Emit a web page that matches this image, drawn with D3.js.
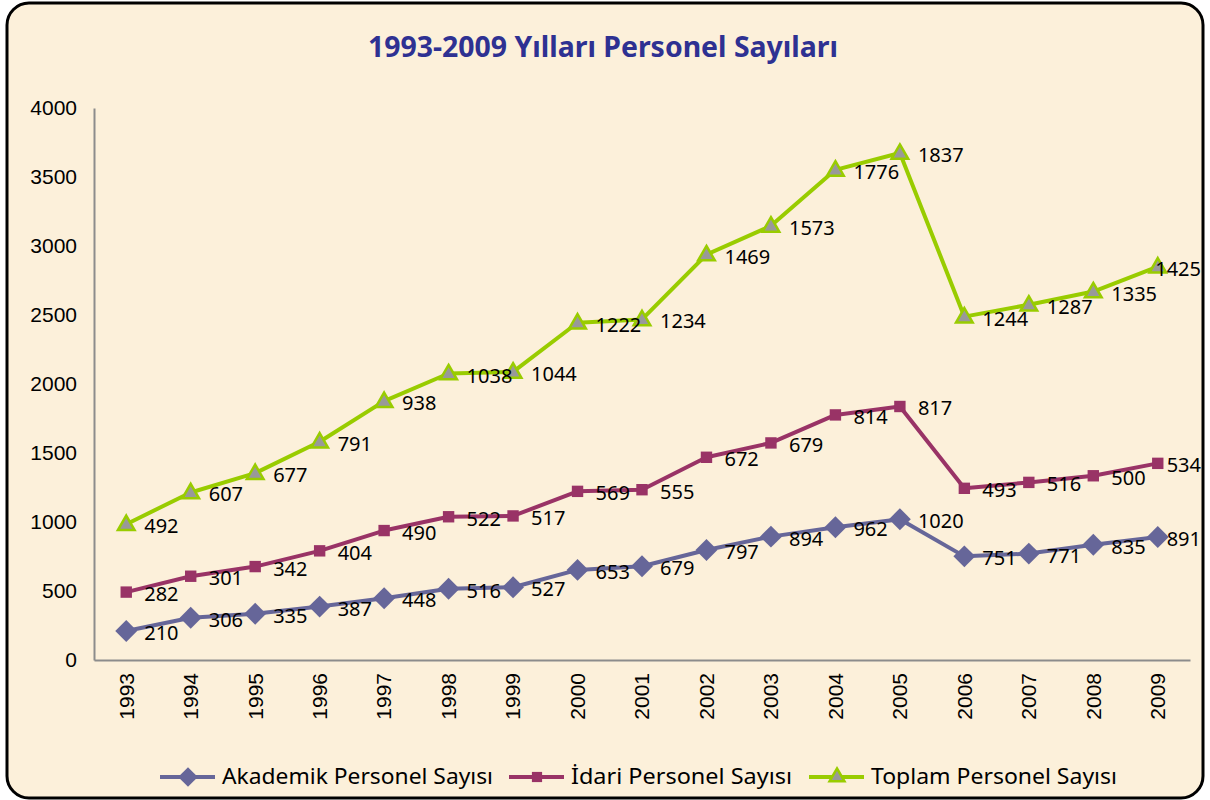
<!DOCTYPE html>
<html>
<head>
<meta charset="utf-8">
<script src="https://cdn.jsdelivr.net/npm/d3@7"></script>
<style>
	body{ margin:0; background:#ffffff; }
</style>
</head>
<body>
<svg id="chart" width="1210" height="800"></svg>
<script>
// Values as printed on the chart. The chart is a stacked line chart,
// so every series is drawn on top of the previous one.
const years = ["1993","1994","1995","1996","1997","1998","1999","2000","2001",
	"2002","2003","2004","2005","2006","2007","2008","2009"];
const akademik = [210,306,335,387,448,516,527,653,679,797,894,962,1020,751,771,835,891];
const idari    = [282,301,342,404,490,522,517,569,555,672,679,814,817,493,516,500,534];
const toplam   = [492,607,677,791,938,1038,1044,1222,1234,1469,1573,1776,1837,1244,1287,1335,1425];

const yTicks = [0,500,1000,1500,2000,2500,3000,3500,4000];

const seriesNames = ["Akademik Personel Sayısı","İdari Personel Sayısı","Toplam Personel Sayısı"];

const sans = "'Noto Sans', sans-serif";
const arial = "'Liberation Sans', Arial, sans-serif";

const svg = d3.select("#chart");

// Frame.
svg.append("rect")
	.attr("x", 7).attr("y", 3)
	.attr("width", 1196).attr("height", 795)
	.attr("rx", 22).attr("ry", 22)
	.attr("fill", "#fcf0da")
	.attr("stroke", "#000")
	.attr("stroke-width", 3);

// Title.
svg.append("text")
	.attr("x", 603).attr("y", 57)
	.attr("text-anchor", "middle")
	.attr("font-family", sans)
	.attr("font-size", 28)
	.attr("font-weight", "bold")
	.attr("fill", "#2e3192")
	.attr("textLength", 470)
	.attr("lengthAdjust", "spacingAndGlyphs")
	.text("1993-2009 Yılları Personel Sayıları");

const plot = {left: 94, right: 1190, top: 108, bottom: 660};

const x = d3.scaleBand()
	.domain(years)
	.range([plot.left, plot.right]);

const y = d3.scaleLinear()
	.domain([0, 4000])
	.range([plot.bottom, plot.top]);

// Axes.
const yAxis = svg.append("g")
	.attr("transform", `translate(${plot.left},0)`)
	.call(d3.axisLeft(y).tickValues(yTicks).tickFormat(d3.format("d")).tickSize(0).tickPadding(17));
yAxis.attr("font-family", arial).attr("font-size", 21);
yAxis.select(".domain").attr("stroke", "#8c8c8c").attr("stroke-width", 2);
yAxis.selectAll("text").attr("fill", "#000");

const xAxis = svg.append("g")
	.attr("transform", `translate(0,${plot.bottom})`)
	.call(d3.axisBottom(x).tickSize(0).tickSizeOuter(0));
xAxis.attr("font-family", arial).attr("font-size", 21);
xAxis.select(".domain").attr("stroke", "#8c8c8c").attr("stroke-width", 2);
xAxis.selectAll("text")
	.attr("fill", "#000")
	.attr("text-anchor", "end")
	.attr("transform", "rotate(-90)")
	.attr("x", -13)
	.attr("y", 0)
	.attr("dy", "0.35em");

// Stack the three series.
const rows = years.map((yr, i) => ({year: yr, a: akademik[i], b: idari[i], c: toplam[i]}));
const stacked = d3.stack().keys(["a","b","c"])(rows);

// Diamond = square turned by 45 degrees (d3's own diamond is too narrow).
const config = [
	{layer: stacked[0], raw: akademik, color: "#666699", marker: d3.symbolSquare, rot: 45, size: 240, fill: "#666699", stroke: "none", dy: 0},
	{layer: stacked[1], raw: idari, color: "#993366", marker: d3.symbolSquare, rot: 0, size: 130, fill: "#993366", stroke: "none", dy: 0},
	{layer: stacked[2], raw: toplam, color: "#99cc00", marker: d3.symbolTriangle, rot: 0, size: 120, fill: "#999999", stroke: "#99cc00", dy: 1},
];

const cx = d => x(d.data.year) + x.bandwidth() / 2;

const line = d3.line()
	.x(cx)
	.y(d => y(d[1]));

config.forEach(c => {
	const g = svg.append("g");

	g.append("path")
		.datum(c.layer)
		.attr("d", line)
		.attr("fill", "none")
		.attr("stroke", c.color)
		.attr("stroke-width", 4)
		.attr("stroke-linejoin", "round");

	g.selectAll("path.marker")
		.data(c.layer)
		.enter()
		.append("path")
			.attr("class", "marker")
			.attr("d", d3.symbol().type(c.marker).size(c.size))
			.attr("transform", d => `translate(${cx(d)},${y(d[1]) + c.dy}) rotate(${c.rot})`)
			.attr("fill", c.fill)
			.attr("stroke", c.stroke)
			.attr("stroke-width", 2.5);

	g.selectAll("text")
		.data(c.layer)
		.enter()
		.append("text")
			.attr("x", d => cx(d) + 18)
			.attr("y", d => y(d[1]) + 2)
			.attr("dy", "0.35em")
			.attr("font-family", sans)
			.attr("font-size", 20)
			.attr("fill", "#000")
			.text((d, i) => c.raw[i])
			.each(function(){
				// Keep labels inside the frame, like the original does.
				let w = this.getComputedTextLength();
				let x0 = +this.getAttribute("x");
				if(x0 + w > 1201) this.setAttribute("x", 1201 - w);
			});
});

// Legend.
const legendY = 777;
const legendX = [160, 509, 809];
const legendW = [271, 221, 246];
config.forEach((c, i) => {
	const g = svg.append("g").attr("transform", `translate(${legendX[i]},${legendY})`);
	g.append("line")
		.attr("x1", 0).attr("x2", 55)
		.attr("stroke", c.color)
		.attr("stroke-width", 4);
	g.append("path")
		.attr("d", d3.symbol().type(c.marker).size(c.size * 0.8))
		.attr("transform", `translate(28,0) rotate(${c.rot})`)
		.attr("fill", c.fill)
		.attr("stroke", c.stroke)
		.attr("stroke-width", 2.5);
	g.append("text")
		.attr("x", 62)
		.attr("dy", "0.35em")
		.attr("font-family", sans)
		.attr("font-size", 21)
		.attr("fill", "#000")
		.attr("textLength", legendW[i])
		.attr("lengthAdjust", "spacingAndGlyphs")
		.text(seriesNames[i]);
});
</script>
</body>
</html>
